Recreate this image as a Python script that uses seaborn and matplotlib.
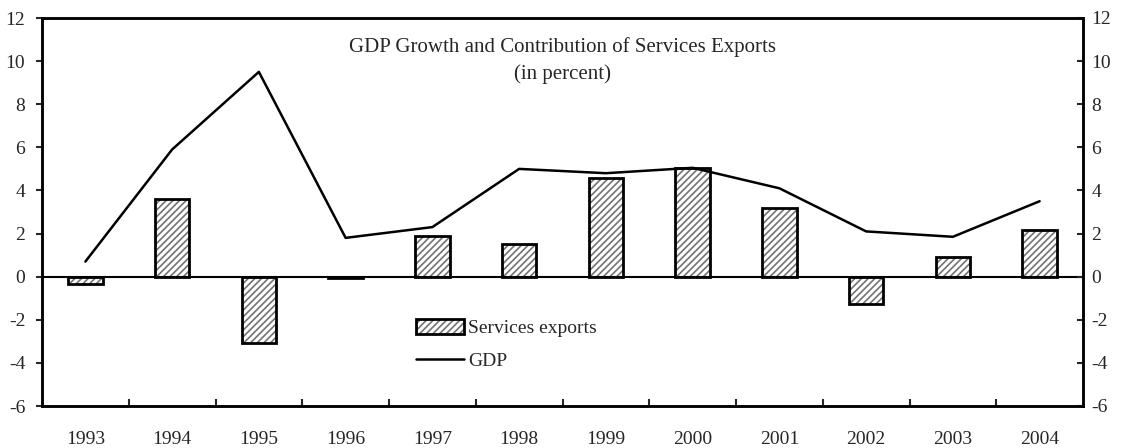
import matplotlib
matplotlib.use("Agg")
import matplotlib.pyplot as plt
from matplotlib.patches import Patch
from matplotlib.lines import Line2D
import seaborn as sns
import pandas as pd
import numpy as np

years = ["1993", "1994", "1995", "1996", "1997", "1998", "1999", "2000", "2001", "2002", "2003", "2004"]
services_exports = [-0.35, 3.6, -3.1, -0.05, 1.9, 1.5, 4.6, 5.05, 3.2, -1.25, 0.9, 2.15]
gdp = [0.7, 5.9, 9.5, 1.8, 2.3, 5.0, 4.8, 5.05, 4.1, 2.1, 1.85, 3.5]
yticks = [-6, -4, -2, 0, 2, 4, 6, 8, 10, 12]
title = "GDP Growth and Contribution of Services Exports\n(in percent)"

sns.set_theme(style="white")
plt.rcParams["font.family"] = ["Liberation Serif", "DejaVu Serif"]
plt.rcParams["hatch.linewidth"] = 1.2

FS = 14
HATCH_COLOR = (0.45, 0.45, 0.45, 1.0)

df = pd.DataFrame({"year": years, "services": services_exports, "gdp": gdp,
                   "pos": np.arange(len(years))})

fig = plt.figure(figsize=(11.22, 4.48), dpi=100)
ax = fig.add_axes([42/1122, 42/448, (1083-42)/1122, (406-18)/448])

sns.barplot(data=df, x="year", y="services", ax=ax, width=0.4, color="white",
            edgecolor="black", linewidth=2, hatch="/////", saturation=1)
for p in ax.patches:
    p._hatch_color = HATCH_COLOR
sns.lineplot(data=df, x="pos", y="gdp", ax=ax, color="black", linewidth=1.8, legend=False)

ax.axhline(0, color="black", linewidth=1.5, zorder=1)
ax.set_xlim(-0.5, len(years) - 0.5)
ax.set_ylim(-6, 12)
ax.set_yticks(yticks)
ax.set_yticklabels([str(t) for t in yticks], fontsize=FS)
ax.set_xticks(np.arange(len(years)))
ax.set_xticklabels(years, fontsize=FS)
ax.set_xticks(np.arange(len(years) - 1) + 0.5, minor=True)
ax.tick_params(axis="x", which="major", length=0, pad=18)
ax.tick_params(axis="x", which="minor", direction="in", length=5, width=1.5, bottom=True)
ax.tick_params(axis="y", direction="out", length=4, width=1.5, left=True, pad=8)
ax.set_xlabel("")
ax.set_ylabel("")
for s in ax.spines.values():
    s.set_linewidth(1.8)
    s.set_color("black")

ax2 = ax.twinx()
ax2.set_ylim(-6, 12)
ax2.set_yticks(yticks)
ax2.set_yticklabels([str(t) for t in yticks], fontsize=FS)
ax2.tick_params(axis="y", direction="in", length=4, width=1.5, right=True, pad=6)
for s in ax2.spines.values():
    s.set_linewidth(1.8)
    s.set_color("black")

ax.text(0.5, 0.95, title, transform=ax.transAxes, ha="center", va="top",
        fontsize=15, linespacing=1.45)

bar_handle = Patch(facecolor="white", edgecolor="black", linewidth=2, hatch="/////")
bar_handle._hatch_color = HATCH_COLOR
line_handle = Line2D([], [], color="black", linewidth=1.8)
ax.legend([bar_handle, line_handle], ["Services exports", "GDP"], loc="center left",
          bbox_to_anchor=(0.359, 0.158), frameon=False,
          fontsize=FS, handlelength=2.5, handleheight=0.8, handletextpad=0.2,
          labelspacing=0.75, borderpad=0, borderaxespad=0)

fig.savefig("out.png", dpi=100)
